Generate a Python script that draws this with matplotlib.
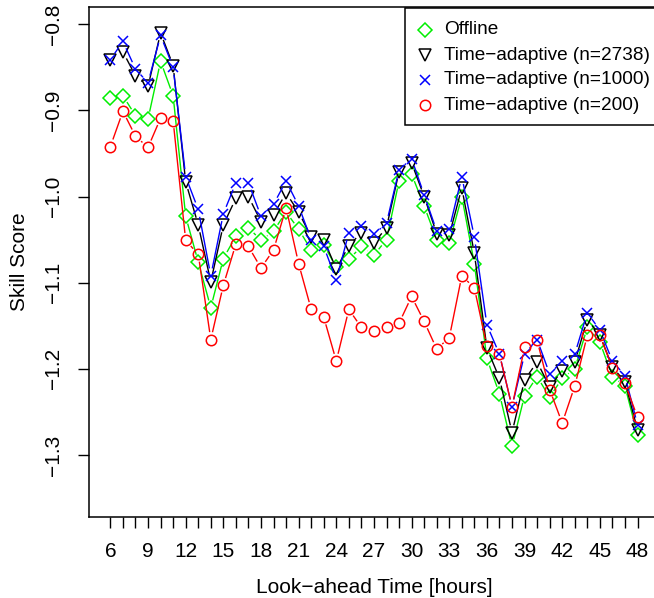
import numpy as np
import matplotlib
matplotlib.use("Agg")
import matplotlib.pyplot as plt
from matplotlib.patches import Rectangle

plt.rcParams['font.family'] = ['Liberation Sans', 'DejaVu Sans']

# look-ahead hours and skill scores
hours = np.arange(6, 49)

offline = [-0.886, -0.883, -0.906, -0.910, -0.843, -0.883, -1.023, -1.076, -1.129, -1.072,
           -1.046, -1.036, -1.051, -1.040, -1.018, -1.038, -1.062, -1.056, -1.082, -1.073,
           -1.058, -1.068, -1.050, -0.982, -0.974, -1.011, -1.050, -1.054, -1.000, -1.078,
           -1.188, -1.229, -1.290, -1.231, -1.209, -1.233, -1.211, -1.200, -1.152, -1.169,
           -1.209, -1.220, -1.277]

ta_2738 = [-0.841, -0.832, -0.860, -0.872, -0.810, -0.848, -0.983, -1.033, -1.099, -1.033,
           -1.002, -1.000, -1.029, -1.021, -0.996, -1.018, -1.047, -1.050, -1.084, -1.057,
           -1.042, -1.054, -1.036, -0.971, -0.961, -1.000, -1.043, -1.045, -0.990, -1.066,
           -1.176, -1.211, -1.274, -1.213, -1.192, -1.221, -1.202, -1.192, -1.143, -1.161,
           -1.198, -1.215, -1.271]

ta_1000 = [-0.841, -0.820, -0.852, -0.868, -0.813, -0.850, -0.977, -1.015, -1.092, -1.020,
           -0.984, -0.984, -1.023, -1.009, -0.982, -1.011, -1.050, -1.058, -1.097, -1.042,
           -1.034, -1.044, -1.031, -0.969, -0.956, -0.998, -1.040, -1.038, -0.977, -1.047,
           -1.149, -1.183, -1.244, -1.183, -1.166, -1.206, -1.191, -1.183, -1.135, -1.155,
           -1.191, -1.208, -1.265]

ta_200 = [-0.942, -0.901, -0.930, -0.943, -0.909, -0.912, -1.051, -1.067, -1.166, -1.103,
          -1.055, -1.058, -1.083, -1.062, -1.013, -1.078, -1.131, -1.140, -1.191, -1.131,
          -1.152, -1.156, -1.152, -1.147, -1.116, -1.145, -1.177, -1.164, -1.092, -1.106,
          -1.174, -1.183, -1.244, -1.175, -1.167, -1.224, -1.263, -1.220, -1.161, -1.161,
          -1.199, -1.217, -1.256]

labels = ["Offline", "Time\u2212adaptive (n=2738)", "Time\u2212adaptive (n=1000)",
          "Time\u2212adaptive (n=200)"]
colors = ["#00ee00", "black", "#0000ff", "#ff0000"]
markers = ["D", "v", "x", "o"]
msizes = [7, 8.5, 7.5, 7.5]

W, H = 654, 598
fig = plt.figure(figsize=(W / 100, H / 100), dpi=100)
ax = fig.add_axes([89.3 / W, 1 - 517 / H, (658.6 - 89.3) / W, 510 / H])
ax.set_xlim(4.32, 49.68)
ax.set_ylim(-1.372, -0.780)


def gapped_line(x, y, color, gap=7.5):
    # R type="b": lines stop short of each point
    pts = ax.transData.transform(np.column_stack([x, y]))
    inv = ax.transData.inverted()
    for p0, p1 in zip(pts[:-1], pts[1:]):
        d = p1 - p0
        L = np.hypot(d[0], d[1])
        if L <= 2 * gap:
            continue
        u = d / L
        a = inv.transform(p0 + u * gap)
        b = inv.transform(p1 - u * gap)
        ax.plot([a[0], b[0]], [a[1], b[1]], color=color, lw=1.0, solid_capstyle='butt')


series = [offline, ta_2738, ta_1000, ta_200]
for vals, c, m, s in zip(series, colors, markers, msizes):
    gapped_line(hours, vals, c)
    ax.plot(hours, vals, ls='none', marker=m, ms=s, mfc='none', mec=c, mew=1.1)

ax.set_xticks(hours, minor=True)
ax.set_xticks(np.arange(6, 49, 3))
ax.set_yticks([-1.3, -1.2, -1.1, -1.0, -0.9, -0.8])
ax.set_yticklabels(["\u22121.3", "\u22121.2", "\u22121.1", "\u22121.0", "\u22120.9", "\u22120.8"],
                   rotation=90, va='center')
ax.tick_params(which='both', direction='out', length=8, width=1, labelsize=15)
ax.tick_params(axis='x', which='both', pad=10)
ax.tick_params(axis='y', pad=11)
for sp in ax.spines.values():
    sp.set_linewidth(1.1)

ax.set_xlabel("Look\u2212ahead Time [hours]", fontsize=15, labelpad=12)
ax.set_ylabel("Skill Score", fontsize=15, labelpad=11)

# legend box drawn in pixel positions of the figure
fig.patches.append(Rectangle((405 / W, 1 - 125 / H), 260 / W, 117 / H,
                             transform=fig.transFigure, fill=True, fc='white',
                             ec='black', lw=1.1, zorder=5))
for i, (lab, c, m, s) in enumerate(zip(labels, colors, markers, msizes)):
    yy = 1 - (30 + 25 * i) / H
    fig.add_artist(plt.Line2D([425 / W], [yy], ls='none', marker=m, ms=s, mfc='none',
                              mec=c, mew=1.1, transform=fig.transFigure, zorder=6))
    fig.text(444 / W, yy, lab, fontsize=13.7, va='center', ha='left', zorder=6)

fig.savefig("out.png", dpi=100)
